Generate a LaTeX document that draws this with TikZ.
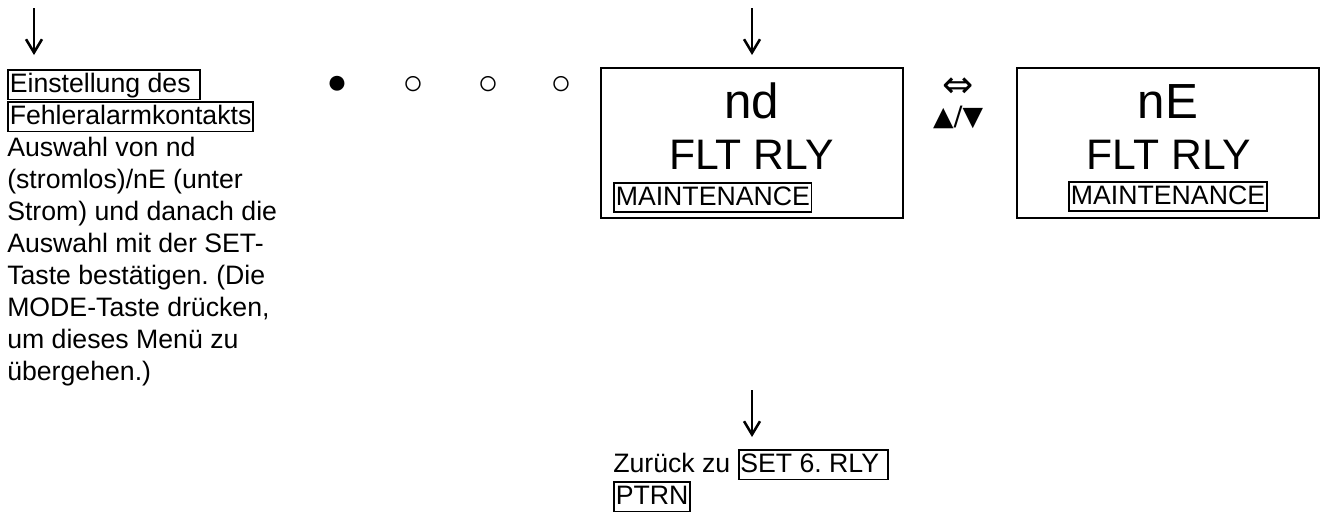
\documentclass[tikz,border=0pt]{standalone}
\usepackage{fontspec}
\usetikzlibrary{arrows.meta}
\setmainfont{Liberation Sans}
\newfontfamily\dejavu{DejaVu Sans}
\frenchspacing
\newcommand{\bodyfont}{\fontsize{20}{24}\selectfont\frenchspacing}
\newcommand{\bigfont}{\fontsize{32}{36}\selectfont}
\newcommand{\hugefont}{\fontsize{37}{42}\selectfont}
\setlength{\fboxrule}{1.4pt}
\setlength{\fboxsep}{0.5pt}
\setlength{\lineskip}{1pt}
\newcommand{\bx}[1]{\fbox{\rule[-0.21em]{0pt}{0.98em}#1}}
\tikzset{
  txt/.style={inner sep=0pt, font=\bodyfont},
  bigtxt/.style={inner sep=0pt, font=\bigfont, anchor=base},
  hugetxt/.style={inner sep=0pt, font=\hugefont, anchor=base},
  dot/.style={inner sep=0pt, font=\fontsize{26}{30}\selectfont},
  sym/.style={inner sep=0pt, font=\dejavu\fontsize{20}{24}\selectfont},
  bigsym/.style={inner sep=0pt, font=\dejavu\fontsize{28}{32}\selectfont},
  downarrow/.style={-{Straight Barb[length=10pt,width=12pt]}, line width=1.9pt},
  dispbox/.style={draw, line width=1.5pt, minimum width=226.5pt, minimum height=112.5pt, inner sep=0pt}
}
\begin{document}
\begin{tikzpicture}[x=0.75pt, y=-0.75pt]
\useasboundingbox (0,0) rectangle (1325,515);
% arrows
\coordinate (a1s) at (34,8);   \coordinate (a1e) at (34,55);
\coordinate (a2s) at (752,8);  \coordinate (a2e) at (752,55);
\coordinate (a3s) at (752,390); \coordinate (a3e) at (752,437);
\draw[downarrow] (a1s) -- (a1e);
\draw[downarrow] (a2s) -- (a2e);
\draw[downarrow] (a3s) -- (a3e);
% description
\node[txt, anchor=north west, align=left] (desc) at (7,69)
 {\bx{Einstellung des\ }\\\bx{Fehleralarmkontakts}\\Auswahl von nd\\(stromlos)/nE (unter\\Strom) und danach die\\Auswahl mit der SET-\\Taste bestätigen. (Die\\MODE-Taste drücken,\\um dieses Menü zu\\übergehen.)};
% dots
\node[dot] (d1) at (337,85) {●};
\node[dot] (d2) at (413,85) {○};
\node[dot] (d3) at (488,85) {○};
\node[dot] (d4) at (561,85) {○};
% display boxes
\node[dispbox] (box1) at (751.5,143) {};
\node[dispbox] (box2) at (1167.5,142.5) {};
\node[hugetxt] (nd) at (752,118) {nd};
\node[bigtxt] (flt1) at (751.5,169) {FLT RLY};
\node[txt, anchor=base west] (m1) at (613,205) {\bx{MAINTENANCE}};
\node[hugetxt] (ne) at (1168,118) {nE};
\node[bigtxt] (flt2) at (1169,169) {FLT RLY};
\node[txt, anchor=base] (m2) at (1168,204) {\bx{MAINTENANCE}};
% toggle
\node[bigsym] (lr) at (958,88) {⇔};
\node[sym] (ud) at (958,117) {▲/▼};
% return
\node[txt, anchor=north west, align=left] (ret) at (613,449)
 {Zurück zu \bx{SET 6. RLY\ }\\\bx{PTRN}};
\end{tikzpicture}
\end{document}
